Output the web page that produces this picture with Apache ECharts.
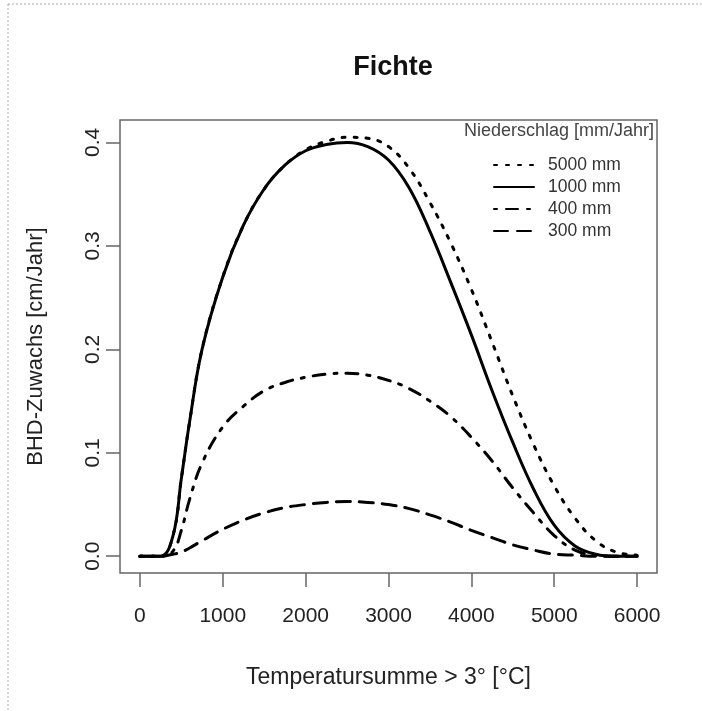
<!DOCTYPE html>
<html>
<head>
<meta charset="utf-8">
<script src="https://cdn.jsdelivr.net/npm/echarts@6/dist/echarts.min.js"></script>
<style>
html,body{margin:0;padding:0;background:#fff;overflow:hidden;}
#chart{width:702px;height:711px;}
</style>
</head>
<body>
<div id="chart"></div>
<script>
const temperatureSums = [0, 250, 400, 500, 600, 750, 1000, 1250, 1500, 1750, 2000, 2250, 2500, 2750, 3000, 3250, 3500, 3750, 4000, 4250, 4500, 4750, 5000, 5250, 5500, 5750, 6000];
const growth5000 = [0, 0, 0.02, 0.075, 0.13, 0.2, 0.27, 0.32, 0.355, 0.378, 0.393, 0.401, 0.405, 0.404, 0.396, 0.375, 0.342, 0.303, 0.258, 0.207, 0.155, 0.108, 0.068, 0.037, 0.015, 0.004, 0.001];
const growth1000 = [0, 0, 0.02, 0.075, 0.13, 0.2, 0.27, 0.32, 0.355, 0.378, 0.392, 0.398, 0.400, 0.396, 0.383, 0.356, 0.314, 0.265, 0.214, 0.16, 0.11, 0.065, 0.03, 0.01, 0.002, 0, 0];
const growth400 = [0, 0, 0.005, 0.025, 0.055, 0.09, 0.125, 0.145, 0.16, 0.168, 0.173, 0.176, 0.177, 0.175, 0.170, 0.162, 0.150, 0.135, 0.115, 0.092, 0.066, 0.042, 0.02, 0.006, 0.001, 0, 0];
const growth300 = [0, 0, 0.002, 0.004, 0.008, 0.015, 0.026, 0.035, 0.042, 0.047, 0.05, 0.052, 0.053, 0.052, 0.05, 0.046, 0.04, 0.033, 0.025, 0.018, 0.011, 0.006, 0.002, 0.001, 0, 0, 0];
const seriesNames = ['5000 mm', '1000 mm', '400 mm', '300 mm'];
const xTicks = [0, 1000, 2000, 3000, 4000, 5000, 6000];
const yTicks = [0, 0.1, 0.2, 0.3, 0.4];

const FONT = "'Liberation Sans', Arial, Helvetica, sans-serif";
const pairs = ys => temperatureSums.map((x, i) => [x, ys[i]]);
const dashes = [[3, 9], 'solid', [3, 9, 12, 9], [14, 9]];
const values = [growth5000, growth1000, growth400, growth300];

const chart = echarts.init(document.getElementById('chart'), null, {renderer: 'canvas'});
chart.setOption({
  animation: false,
  backgroundColor: '#fff',
  title: [{
    text: 'Fichte', left: 388, top: 49, textAlign: 'center',
    textStyle: {fontFamily: FONT, fontSize: 27, fontWeight: 'bold', color: '#111'}
  }, {
    text: 'Niederschlag [mm/Jahr]', right: 48, top: 122, padding: 0,
    textStyle: {fontFamily: FONT, fontSize: 18, fontWeight: 'normal', color: '#444'}
  }],
  graphic: [
    {type: 'line', shape: {x1: 8, y1: 4, x2: 702, y2: 4}, style: {stroke: '#aaa', lineWidth: 1, lineDash: [2, 2]}},
    {type: 'line', shape: {x1: 8, y1: 4, x2: 8, y2: 711}, style: {stroke: '#aaa', lineWidth: 1, lineDash: [2, 2]}}
  ],
  legend: {
    orient: 'vertical', left: 493, top: 156, itemWidth: 40, itemHeight: 14, itemGap: 4,
    padding: 0, data: seriesNames,
    itemStyle: {color: 'rgba(0,0,0,0)', borderWidth: 0, opacity: 0},
    textStyle: {fontFamily: FONT, fontSize: 17.5, color: '#333', padding: [0, 0, 0, 9]}
  },
  grid: {left: 120, right: 45, top: 120, bottom: 138, show: true, borderColor: '#666', borderWidth: 1.5, containLabel: false},
  xAxis: {
    type: 'value', min: -240, max: 6240,
    name: 'Temperatursumme > 3° [°C]', nameLocation: 'middle', nameGap: 93,
    nameTextStyle: {fontFamily: FONT, fontSize: 23, color: '#222'},
    axisLine: {show: false, onZero: false},
    splitLine: {show: false},
    axisTick: {show: true, inside: false, length: 14, customValues: xTicks, lineStyle: {color: '#666', width: 1.5}},
    axisLabel: {customValues: xTicks, margin: 33, fontFamily: FONT, fontSize: 21, color: '#222',
      formatter: v => String(v)}
  },
  yAxis: {
    type: 'value', min: -0.0162, max: 0.4217,
    name: 'BHD-Zuwachs [cm/Jahr]', nameLocation: 'middle', nameGap: 73, nameRotate: 90,
    nameTextStyle: {fontFamily: FONT, fontSize: 22, color: '#222'},
    axisLine: {show: false, onZero: false},
    splitLine: {show: false},
    axisTick: {show: true, inside: false, length: 14, customValues: yTicks, lineStyle: {color: '#666', width: 1.5}},
    axisLabel: {customValues: yTicks, rotate: 90, margin: 16, fontFamily: FONT, fontSize: 21, color: '#222',
      formatter: v => v.toFixed(1)}
  },
  series: seriesNames.map((name, i) => ({
    name: name, type: 'line', data: pairs(values[i]), smooth: 0.4,
    symbol: 'none', showSymbol: false,
    lineStyle: {color: '#000', width: 3, type: dashes[i], cap: 'round'},
    itemStyle: {color: '#000'}
  }))
});
</script>
</body>
</html>
